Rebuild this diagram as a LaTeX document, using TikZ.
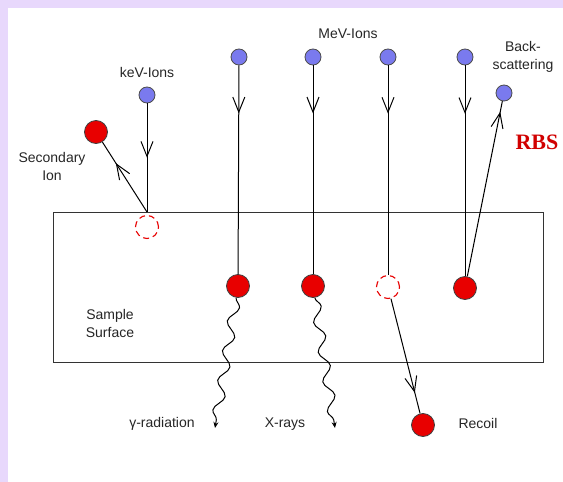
\documentclass[tikz,border=0pt]{standalone}
\usepackage{fontspec}
\setmainfont{Liberation Sans}
\newfontfamily\rbsfont{Liberation Serif}
\usetikzlibrary{arrows.meta,decorations.markings,decorations.pathmorphing}
\definecolor{lavender}{RGB}{232,216,252}
\definecolor{ionblue}{RGB}{122,122,238}
\definecolor{hitred}{RGB}{232,0,0}

\begin{document}
\begin{tikzpicture}[x=1pt, y=-1pt,
    ion/.style={circle, draw=black!70, fill=ionblue, line width=0.8pt, minimum size=16pt, inner sep=0pt},
    atom/.style={circle, draw=black!75, fill=hitred, line width=0.8pt, minimum size=23pt, inner sep=0pt},
    vacancy/.style={circle, draw=hitred, dash pattern=on 6pt off 4pt, line width=1.1pt, minimum size=23pt, inner sep=0pt},
    txt/.style={font=\fontsize{14}{18}\selectfont, text=black!85, align=center},
    ray/.style={line width=1pt},
    midarrow/.style={ray, postaction={decorate},
        decoration={markings, mark=at position #1 with {\arrow{Straight Barb[length=15pt,width=12pt,line width=1pt]}}}},
    wave/.style={ray, decorate, decoration={snake, amplitude=5pt, segment length=30pt, post length=5pt},
        -{Stealth[length=6pt,width=5pt]}}
]
\useasboundingbox (0,0) rectangle (563,482);
\fill[lavender] (0,0) rectangle (563,482);
\fill[white] (8,8) rectangle (563,482);

\node[draw=black!80, line width=1pt, minimum width=490pt, minimum height=150pt, inner sep=0pt] (sample) at (298,287) {};

\node[ion] (kev) at (147,95) {};
\coordinate (hit) at (147,212);
\node[vacancy] (kevhole) at (147,227) {};
\node[atom] (sec) at (96,132) {};

\foreach \x/\n in {239/m1, 313/m2, 388/m3, 465/m4}
    \node[ion] (\n) at (\x,57) {};
\node[atom] (gam) at (238,286) {};
\node[atom] (xr) at (313,286) {};
\node[vacancy] (hole) at (388,287) {};
\node[atom] (rbs) at (465,288) {};
\node[atom] (rec) at (423,425) {};
\node[ion] (back) at (504,93) {};
\coordinate (gtip) at (215,428);
\coordinate (xtip) at (335,428);

\draw[midarrow=0.5] (kev) -- (hit);
\draw[midarrow=0.7] (hit) -- (sec);
\draw[midarrow=0.23] (m1) -- (gam);
\draw[midarrow=0.23] (m2) -- (xr);
\draw[midarrow=0.23] (m3) -- (hole);
\draw[midarrow=0.23] (m4) -- (rbs);
\draw[midarrow=0.94] (rbs) -- (back);
\draw[midarrow=0.82] (hole) -- (rec);
\draw[wave] (gam) -- (gtip);
\draw[wave] (xr) -- (xtip);

\node[txt] (kevlbl) at (147,72) {keV-Ions};
\node[txt] (mevlbl) at (348,34) {MeV-Ions};
\node[txt] (backlbl) at (523,57) {Back-\\scattering};
\node[txt] (seclbl) at (52,166) {Secondary\\Ion};
\node[txt] (samplbl) at (110,323) {Sample\\Surface};
\node[txt] (gamlbl) at (162,424) {γ-radiation};
\node[txt] (xlbl) at (285,424) {X-rays};
\node[txt] (reclbl) at (478,423) {Recoil};
\node[font=\rbsfont\bfseries\fontsize{22}{24}\selectfont, text=hitred!90!black] (rbslbl) at (537,142) {RBS};
\end{tikzpicture}
\end{document}
